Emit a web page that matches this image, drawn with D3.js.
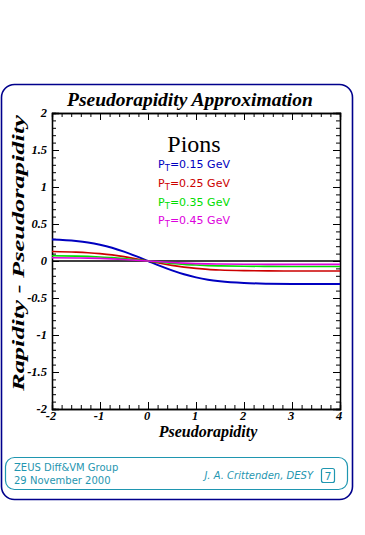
<!DOCTYPE html>
<html><head><meta charset="utf-8">
<script src="https://cdn.jsdelivr.net/npm/d3@7"></script>
<style>html,body{margin:0;padding:0;background:#fff;}svg{display:block;}</style>
</head><body>
<script>
const etas = [-2,-1.5,-1.25,-1,-0.75,-0.5,-0.25,0,0.25,0.5,0.75,1,1.25,1.5,2,2.5,3,3.5,4];
const pt015 = [0.290,0.270,0.250,0.220,0.180,0.127,0.066,0,-0.066,-0.127,-0.180,-0.221,-0.252,-0.273,-0.297,-0.307,-0.311,-0.312,-0.312];
const pt025 = [0.128,0.120,0.112,0.100,0.083,0.059,0.031,0,-0.031,-0.059,-0.083,-0.100,-0.113,-0.121,-0.130,-0.134,-0.135,-0.136,-0.136];
const pt035 = [0.070,0.066,0.062,0.055,0.046,0.033,0.0175,0,-0.0175,-0.033,-0.046,-0.055,-0.062,-0.066,-0.071,-0.073,-0.074,-0.074,-0.074];
const pt045 = [0.044,0.041,0.039,0.035,0.029,0.021,0.011,0,-0.011,-0.021,-0.029,-0.035,-0.039,-0.041,-0.044,-0.045,-0.046,-0.046,-0.046];
const seriesNames = ["0.15 GeV","0.25 GeV","0.35 GeV","0.45 GeV"];
const seriesColors = ["#0000c0","#cc0000","#00dd00","#dd00dd"];
const xTicks = [-2,-1,0,1,2,3,4];
const yTicks = [-2,-1.5,-1,-0.5,0,0.5,1,1.5,2];

const W=365,H=535;
const svg=d3.select("body").append("svg").attr("width",W).attr("height",H);
const frameBlue="#00008c", teal="#1f96b0";

// outer frame
svg.append("rect").attr("x",1.5).attr("y",84.5).attr("width",351).attr("height",415)
  .attr("rx",13).attr("fill","none").attr("stroke",frameBlue).attr("stroke-width",1.6);
// footer box
svg.append("rect").attr("x",5.5).attr("y",457.5).attr("width",342).attr("height",32)
  .attr("rx",9).attr("fill","none").attr("stroke",teal).attr("stroke-width",1.2);

const x=d3.scaleLinear().domain([-2,4]).range([52,340]);
const y=d3.scaleLinear().domain([-2,2]).range([409,113]);
const serif="'Liberation Serif','DejaVu Serif',serif";
const sans="'DejaVu Sans','Liberation Sans',sans-serif";

// title
svg.append("text").attr("x",190).attr("y",106).attr("text-anchor","middle")
  .attr("font-family",serif).attr("font-weight","bold").attr("font-style","italic")
  .attr("font-size",19.5).text("Pseudorapidity Approximation");

// axes with inward ticks
function minorTicks(domain, step){const a=[];for(let v=domain[0];v<=domain[1]+1e-9;v+=step)a.push(+v.toFixed(3));return a;}
const g=svg.append("g");
const xMinor=minorTicks([-2,4],0.2), yMinor=minorTicks([-2,2],0.1);
const axB=d3.axisTop(x).tickValues(xMinor).tickSize(4).tickFormat("");
const axT=d3.axisBottom(x).tickValues(xMinor).tickSize(4).tickFormat("");
const axL=d3.axisRight(y).tickValues(yMinor).tickSize(4).tickFormat("");
const axR=d3.axisLeft(y).tickValues(yMinor).tickSize(4).tickFormat("");
g.append("g").attr("transform",`translate(0,${y(-2)})`).call(axB);
g.append("g").attr("transform",`translate(0,${y(2)})`).call(axT);
g.append("g").attr("transform",`translate(${x(-2)},0)`).call(axL);
g.append("g").attr("transform",`translate(${x(4)},0)`).call(axR);
g.append("g").attr("transform",`translate(0,${y(-2)})`).call(d3.axisTop(x).tickValues(xTicks).tickSize(7).tickFormat(""));
g.append("g").attr("transform",`translate(0,${y(2)})`).call(d3.axisBottom(x).tickValues(xTicks).tickSize(7).tickFormat(""));
g.append("g").attr("transform",`translate(${x(-2)},0)`).call(d3.axisRight(y).tickValues(yTicks).tickSize(7).tickFormat(""));
g.append("g").attr("transform",`translate(${x(4)},0)`).call(d3.axisLeft(y).tickValues(yTicks).tickSize(7).tickFormat(""));
g.selectAll(".domain").attr("stroke","#000").attr("stroke-width",1.3);
g.selectAll(".tick line").attr("stroke","#000").attr("stroke-width",1);

// tick labels
const lab=svg.append("g").attr("font-family",serif).attr("font-weight","bold").attr("font-style","italic").attr("font-size",12.5);
lab.selectAll(".xl").data(xTicks).join("text").attr("x",d=>x(d)-1).attr("y",420).attr("text-anchor","middle").text(d=>d);
lab.selectAll(".yl").data(yTicks).join("text").attr("x",47).attr("y",d=>y(d)+4).attr("text-anchor","end").text(d=>d);

// axis titles
svg.append("text").attr("x",208).attr("y",437).attr("text-anchor","middle")
  .attr("font-family",serif).attr("font-weight","bold").attr("font-style","italic").attr("font-size",16).text("Pseudorapidity");
svg.append("text").attr("transform","translate(24,253) rotate(-90)").attr("text-anchor","middle")
  .attr("font-family",serif).attr("font-weight","bold").attr("font-style","italic").attr("font-size",16)
  .attr("textLength",276).attr("lengthAdjust","spacingAndGlyphs").text("Rapidity - Pseudorapidity");

// zero line
svg.append("line").attr("x1",x(-2)).attr("x2",x(4)).attr("y1",y(0)).attr("y2",y(0)).attr("stroke","#000").attr("stroke-width",1.3);

// curves
const allSeries=[pt015,pt025,pt035,pt045];
const line=d3.line().x((d,i)=>x(etas[i])).y(d=>y(d)).curve(d3.curveMonotoneX);
allSeries.forEach((s,k)=>{
  svg.append("path").datum(s).attr("d",line).attr("fill","none")
    .attr("stroke",seriesColors[k]).attr("stroke-width",k===0?2:1.6);
});

// legend
svg.append("text").attr("x",194).attr("y",152).attr("text-anchor","middle")
  .attr("font-family",serif).attr("font-size",24).text("Pions");
const legY=[168,187,206,224];
seriesNames.forEach((n,k)=>{
  const t=svg.append("text").attr("x",194).attr("y",legY[k]).attr("text-anchor","middle")
    .attr("font-family",sans).attr("font-size",11).attr("fill",seriesColors[k]);
  t.append("tspan").text("P");
  t.append("tspan").attr("dy",3).attr("font-size",8.5).text("T");
  t.append("tspan").attr("dy",-3).text("=" + n);
});

// footer
const ft=svg.append("g").attr("font-family",sans).attr("fill",teal).attr("font-size",10);
ft.append("text").attr("x",14).attr("y",471).text("ZEUS Diff&VM Group");
ft.append("text").attr("x",14).attr("y",484).text("29 November 2000");
ft.append("text").attr("x",313).attr("y",479).attr("text-anchor","end").attr("font-style","italic").text("J. A. Crittenden, DESY");
svg.append("rect").attr("x",321.5).attr("y",468.5).attr("width",13).attr("height",14).attr("rx",2)
  .attr("fill","none").attr("stroke",teal).attr("stroke-width",1.2);
ft.append("text").attr("x",328).attr("y",480).attr("text-anchor","middle").attr("font-size",11).text("7");
</script>
</body></html>
